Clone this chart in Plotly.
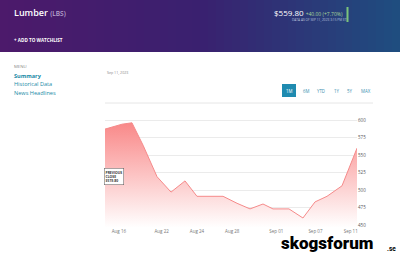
import plotly.graph_objects as go

W, H = 400, 255

# ---- data ----
session_pos = [0, 1.35, 2.14, 3.02, 4.13, 5.24, 6.35, 7.30, 9.37, 10.48, 11.51,
               12.54, 13.33, 14.60, 15.71, 16.67, 17.62, 18.81, 20]
prices = [587, 594, 596, 564, 519, 497, 513, 491, 491, 481, 473,
          480, 473, 473, 460, 483, 491, 506, 559.8]
tick_pos = [1.1, 4.5, 7.3, 10.1, 13.6, 16.7, 19.5]
tick_labels = ["Aug 16", "Aug 22", "Aug 24", "Aug 28", "Sep 01", "Sep 07", "Sep 11"]
y_ticks = [450, 475, 500, 525, 550, 575, 600]
range_buttons = ["1M", "6M", "YTD", "1Y", "5Y", "MAX"]
menu_items = ["Summary", "Historical Data", "News Headlines"]
prev_close = 519.80
last_price = 559.80

def px(x):
    return x / W

def py(y):
    return 1 - y / H

fig = go.Figure()
fig.add_trace(go.Scatter(
    x=session_pos, y=prices, mode="lines",
    line=dict(color="#f58a8a", width=1),
    fill="tozeroy",
    fillgradient=dict(type="vertical",
                      colorscale=[[0, "rgba(255,255,255,1)"], [1, "rgba(249,135,135,1)"]],
                      start=446, stop=598),
    hoverinfo="skip", showlegend=False,
))

shapes = []
# header gradient strips
stops = [(0, (77, 26, 107)), (0.5, (58, 33, 112)), (1, (31, 78, 128))]
def lerp(t):
    for (t0, c0), (t1, c1) in zip(stops[:-1], stops[1:]):
        if t <= t1:
            f = (t - t0) / (t1 - t0)
            return tuple(int(c0[k] + (c1[k] - c0[k]) * f) for k in range(3))
    return stops[-1][1]
N = 50
for i in range(N):
    c = lerp((i + 0.5) / N)
    shapes.append(dict(type="rect", xref="paper", yref="paper",
                       x0=i / N, x1=(i + 1) / N + 0.002, y0=py(52), y1=1,
                       fillcolor="rgb(%d,%d,%d)" % c, line=dict(width=0), layer="below"))
# green bar
shapes.append(dict(type="rect", xref="paper", yref="paper", x0=px(346.5), x1=px(348.5),
                   y0=py(22), y1=py(7), fillcolor="#7cc47c", line=dict(width=0)))
# separator line
shapes.append(dict(type="line", xref="paper", yref="paper", x0=px(105), x1=px(373),
                   y0=py(103), y1=py(103), line=dict(color="#e6e6e6", width=1)))
# 1M button
shapes.append(dict(type="rect", xref="paper", yref="paper", x0=px(282), x1=px(296),
                   y0=py(97), y1=py(84), fillcolor="#1f8bb0", line=dict(width=0)))

ann = []
def t(x, y, text, size, color, xanchor="left", weight=None, family="Open Sans",
      yanchor="middle"):
    f = dict(size=size, color=color, family=family)
    if weight:
        f["weight"] = weight
    ann.append(dict(x=px(x), y=py(y), xref="paper", yref="paper", text=text,
                    showarrow=False, xanchor=xanchor, yanchor=yanchor, font=f))

t(12, 12, "Lumber <span style='font-size:6.5px;color:#b9a6cf'>(LBS)</span>", 9, "white", weight=600)
t(12, 40, "+ ADD TO WATCHLIST", 4.6, "white", weight=700)
chg = last_price - prev_close
t(272, 12, "$%.2f <span style='font-size:5px;color:#a6d49a'>+%.2f (+%.2f%%)</span>"
  % (last_price, chg, chg / prev_close * 100), 8, "white")
t(290, 20, "DATA AS OF SEP 11, 2023 3:15 PM ET", 3.2, "#b8c0dc")
t(12, 66, "MENU", 4.3, "#888888")
for i, m in enumerate(menu_items):
    t(12, 76 + i * 8.5, m, 5.6, "#1a8aa6", weight=700 if i == 0 else 400)
t(105, 72, "Sep 11, 2023", 3.6, "#888888")
btn_x = [289, 306, 321, 337, 350, 366]
for bx, b in zip(btn_x, range_buttons):
    t(bx, 90.5, b, 4.4, "white" if b == "1M" else "#3a8fb0", xanchor="center")
# previous close box
ann.append(dict(x=px(104), y=prev_close, xref="paper", yref="y",
                text="PREVIOUS<br>CLOSE<br>$%.2f" % prev_close, showarrow=False,
                xanchor="left", yanchor="middle", align="left",
                font=dict(size=3.4, color="#333333", family="Open Sans", weight=700),
                bgcolor="white", bordercolor="#555555", borderwidth=0.5, borderpad=1))
# watermark
t(279, 255, "skogsforum", 17, "black", weight=900, family="Roboto", yanchor="bottom")
t(385, 255, ".se", 6.5, "black", weight=700, family="Roboto", yanchor="bottom")

fig.update_layout(
    width=W, height=H, margin=dict(l=0, r=0, t=0, b=0),
    paper_bgcolor="white", plot_bgcolor="white",
    shapes=shapes, annotations=ann,
    xaxis=dict(domain=[px(105), px(357)], range=[0, 20], tickvals=tick_pos,
               ticktext=tick_labels, showgrid=False, zeroline=False, showline=False,
               ticks="", tickfont=dict(size=4.5, color="#777777", family="Open Sans")),
    yaxis=dict(domain=[py(227.8), py(117.2)], range=[446, 604], side="right",
               tickvals=y_ticks, showgrid=True, gridcolor="#ebebeb", gridwidth=1,
               zeroline=False, showline=False, ticks="",
               tickfont=dict(size=4.5, color="#555555", family="Open Sans")),
)
fig.write_html("out.html")
